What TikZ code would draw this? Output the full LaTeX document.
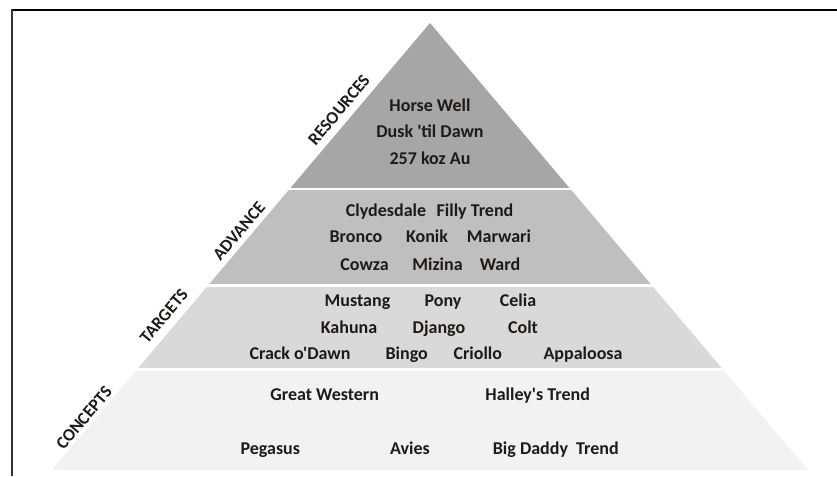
\documentclass[tikz,border=0pt]{standalone}
\usepackage{fontspec}
\setmainfont{Carlito}
\newfontfamily\cfont{Carlito}
\definecolor{resc}{HTML}{A6A6A6}
\definecolor{advc}{HTML}{BFBFBF}
\definecolor{tarc}{HTML}{D9D9D9}
\definecolor{conc}{HTML}{F2F2F2}
\definecolor{txt}{HTML}{1E1A17}
\definecolor{framel}{HTML}{333333}
\begin{document}
\begin{tikzpicture}[x=1pt,y=-1pt,
  item/.style={font=\cfont\fontsize{18}{21}\selectfont\bfseries, text=txt, anchor=base, inner sep=0pt},
  lbl/.style={font=\cfont\fontsize{17.5}{20}\selectfont\bfseries, text=txt, rotate=50, inner sep=0pt}]
\useasboundingbox (0,0) rectangle (837,476);
% frame
\draw[line width=2pt, black] (11,10) -- (837,10);
\draw[line width=2pt, framel] (12,9) -- (12,476);
% pyramid
\coordinate (apex) at (430,23);
\coordinate (bl) at (52,470);
\coordinate (br) at (808,470);
\begin{scope}
\clip (apex) -- (bl) -- (br) -- cycle;
\fill[resc] (0,0) rectangle (837,187.5);
\fill[advc] (0,190) rectangle (837,283.5);
\fill[tarc] (0,286.5) rectangle (837,368);
\fill[conc] (0,371) rectangle (837,470);
\end{scope}
% side labels
\node[lbl] (lres) at (339,110) {RESOURCES};
\node[lbl] (ladv) at (239,231) {ADVANCE};
\node[lbl] (ltar) at (164,316) {TARGETS};
\node[lbl] (lcon) at (84,418) {CONCEPTS};
% resources
\node[item] (r1) at (430,111) {Horse Well};
\node[item] (r2) at (430,137) {Dusk 'til Dawn};
\node[item] (r3) at (430,164) {257 koz Au};
% advance
\node[item] (a1) at (386,216) {Clydesdale};
\node[item] (a2) at (475,216) {Filly Trend};
\node[item] (a3) at (356,242) {Bronco};
\node[item] (a4) at (427,242) {Konik};
\node[item] (a5) at (499,242) {Marwari};
\node[item] (a6) at (364.5,270) {Cowza};
\node[item] (a7) at (437.5,270) {Mizina};
\node[item] (a8) at (500,270) {Ward};
% targets
\node[item] (t1) at (357.5,306) {Mustang};
\node[item] (t2) at (443,306) {Pony};
\node[item] (t3) at (518,306) {Celia};
\node[item] (t4) at (349,333) {Kahuna};
\node[item] (t5) at (439,333) {Django};
\node[item] (t6) at (523,333) {Colt};
\node[item] (t7) at (300,359) {Crack o'Dawn};
\node[item] (t8) at (406.7,359) {Bingo};
\node[item] (t9) at (477.8,359) {Criollo};
\node[item] (t10) at (583,359) {Appaloosa};
% concepts
\node[item] (c1) at (324.7,400) {Great Western};
\node[item] (c2) at (537.7,400) {Halley's Trend};
\node[item] (c3) at (270.3,454) {Pegasus};
\node[item] (c4) at (410,454) {Avies};
\node[item] (c5) at (555.8,454) {Big Daddy\hspace{0.45em}Trend};
\end{tikzpicture}
\end{document}
